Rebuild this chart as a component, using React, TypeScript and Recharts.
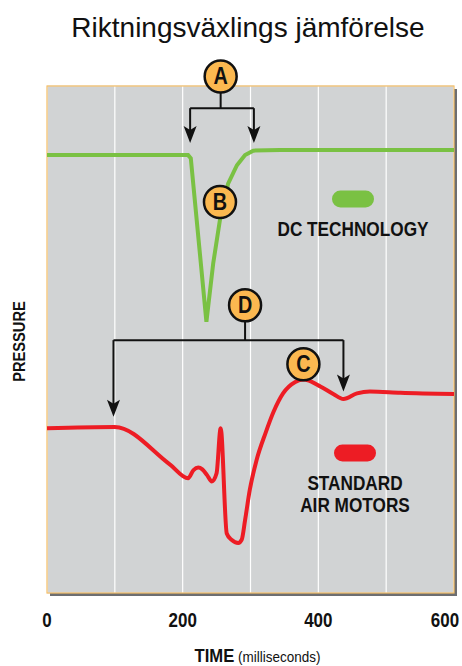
import {
  LineChart,
  Line,
  XAxis,
  YAxis,
  CartesianGrid,
  ReferenceLine,
  ReferenceDot,
  ReferenceArea,
  Legend,
  Label,
} from "recharts";

const timeTicks = [0, 100, 200, 300, 400, 500, 600];
const pressureTicks = [0, 1, 2, 3, 4, 5, 6, 7, 8];

const dcTime = [0, 100, 208, 212, 235, 245, 255, 267, 280, 292, 304, 344, 450, 600];
const dcPressure = [6.91, 6.91, 6.91, 6.86, 4.28, 5.2, 5.89, 6.46, 6.75, 6.91, 6.98, 6.99, 6.99, 6.99];

const airTime = [0, 100, 181, 208, 216, 223, 229, 236, 243, 250, 256, 265, 272, 282, 287, 292, 299, 309, 322, 334, 348, 366, 378, 383, 403, 422, 437, 457, 476, 521, 600];
const airPressure = [2.6, 2.62, 2.03, 1.81, 1.94, 1.98, 1.95, 1.86, 1.76, 1.89, 2.6, 0.94, 0.84, 0.79, 0.84, 1.15, 1.63, 2.1, 2.52, 2.86, 3.15, 3.33, 3.37, 3.36, 3.26, 3.14, 3.06, 3.15, 3.18, 3.16, 3.14];

const markerLetters = ["A", "B", "C", "D"];
const markerTime = [256, 255, 378, 292];
const markerPressure = [8.15, 6.17, 3.61, 4.54];

// brackets: [left, right] times, level and arrow tips
const aBracketTimes = [211, 305];
const aBracketLevel = 7.65;
const aArrowTips = [7.1, 7.1];
const dBracketTimes = [98, 437];
const dBracketLevel = 3.99;
const dArrowTips = [2.78, 3.18];

const dcData = dcTime.map((t, i) => ({ t, p: dcPressure[i] }));
const airData = airTime.map((t, i) => ({ t, p: airPressure[i] }));

const FONT = "'Liberation Sans', Arial, sans-serif";
const GREEN = "#7AC143";
const RED = "#ED1C24";
const BADGE = "#FBB850";

// narrow text: Liberation Sans squeezed horizontally
const NText = ({ x, y, sx, rotate, children, ...rest }: any) => (
  <text
    transform={`translate(${x},${y})${rotate ? ` rotate(${rotate})` : ""} scale(${sx},1)`}
    fontFamily={FONT}
    fill="#111"
    {...rest}
  >
    {children}
  </text>
);

const Badge = (letter: string) => (props: any) => (
  <g>
    <circle cx={props.cx} cy={props.cy} r={16} fill={BADGE} stroke="#111" strokeWidth={2.5} />
    <NText x={props.cx} y={props.cy + 8} sx={0.86} textAnchor="middle" fontWeight="bold" fontSize={23}>
      {letter}
    </NText>
  </g>
);

const ArrowHead = (props: any) => (
  <path
    d={`M${props.cx},${props.cy} L${props.cx - 6.5},${props.cy - 17} L${props.cx},${props.cy - 13} L${props.cx + 6.5},${props.cy - 17} Z`}
    fill="#111"
  />
);

const TimeTick = (props: any) => {
  const v = props.payload.value;
  if (v % 200 !== 0) return null;
  const last = v === 600;
  return (
    <NText x={props.x - (last ? 9 : 0)} y={props.y + 34} sx={0.87} textAnchor="middle" fontWeight="bold" fontSize={19.5}>
      {v}
    </NText>
  );
};

const TimeLabel = (props: any) => {
  const vb = props.viewBox;
  return (
    <NText x={vb.x + vb.width / 2 + 7} y={vb.y + 69} sx={0.9} textAnchor="middle">
      <tspan fontWeight="bold" fontSize={18.5}>TIME</tspan>
      <tspan fontSize={15}> (milliseconds)</tspan>
    </NText>
  );
};

const PressureLabel = (props: any) => {
  const vb = props.viewBox;
  return (
    <NText x={vb.x + 25} y={vb.y + vb.height / 2 + 2} rotate={-90} sx={0.86} textAnchor="middle" fontWeight="bold" fontSize={17}>
      PRESSURE
    </NText>
  );
};

const legendPos = [
  { cx: 353, cy: 199, lines: ["DC TECHNOLOGY"], ty: 236 },
  { cx: 355, cy: 453, lines: ["STANDARD", "AIR MOTORS"], ty: 490 },
];

const LegendContent = (props: any) => (
  <svg width={462} height={666} style={{ display: "block" }}>
    {(props.payload || []).map((entry: any, i: number) => {
      const pos = legendPos[i];
      return (
        <g key={entry.value}>
          <rect x={pos.cx - 21} y={pos.cy - 8.5} width={42} height={17} rx={8.5} fill={entry.color} />
          {pos.lines.map((ln, j) => (
            <NText key={ln} x={pos.cx} y={pos.ty + j * 22} sx={0.82} textAnchor="middle" fontWeight="bold" fontSize={21}>
              {ln}
            </NText>
          ))}
        </g>
      );
    })}
  </svg>
);

const Frame = (props: any) => {
  const { x, y, width, height } = props;
  return (
    <g>
      <rect x={x + width} y={y + 3} width={3} height={height} fill="#6D6E71" />
      <rect x={x + 3} y={y + height} width={width} height={3} fill="#6D6E71" />
      <rect x={x} y={y} width={width} height={height} fill="none" stroke="#F5BE66" strokeWidth={1.2} />
    </g>
  );
};

export default function App() {
  return (
    <div style={{ position: "relative", width: 462, height: 666, background: "#fff" }}>
      <style>{"body{margin:0}"}</style>
      <div
        style={{
          position: "absolute",
          left: 48,
          width: 400,
          top: 14,
          textAlign: "center",
          fontFamily: FONT,
          fontSize: 28,
          lineHeight: "28px",
          color: "#111",
        }}
      >
        Riktningsväxlings jämförelse
      </div>
      <LineChart width={462} height={666} margin={{ top: 86, right: 8, left: 0, bottom: 0 }}>
        <CartesianGrid vertical={false} fill="#D1D3D4" stroke="#DFE0E1" strokeWidth={1.2} />
        <CartesianGrid horizontal={false} stroke="#FFFFFF" strokeWidth={1.2} />
        <XAxis
          type="number"
          dataKey="t"
          domain={[0, 600]}
          ticks={timeTicks}
          height={73}
          axisLine={false}
          tickLine={false}
          tickSize={0}
          tickMargin={0}
          tick={TimeTick}
          interval={0}
        >
          <Label content={TimeLabel} />
        </XAxis>
        <YAxis
          type="number"
          domain={[0, 8]}
          ticks={pressureTicks}
          width={47}
          axisLine={false}
          tickLine={false}
          tick={false}
        >
          <Label content={PressureLabel} />
        </YAxis>
        <ReferenceArea x1={0} x2={600} y1={0} y2={8} shape={Frame} ifOverflow="visible" />
        <Line
          data={dcData}
          dataKey="p"
          name="DC TECHNOLOGY"
          type="linear"
          stroke={GREEN}
          strokeWidth={4}
          dot={false}
          isAnimationActive={false}
        />
        <Line
          data={airData}
          dataKey="p"
          name="STANDARD AIR MOTORS"
          type="monotone"
          stroke={RED}
          strokeWidth={4}
          dot={false}
          isAnimationActive={false}
        />
        {/* bracket A */}
        <ReferenceLine
          segment={[{ x: markerTime[0], y: aBracketLevel }, { x: markerTime[0], y: markerPressure[0] }]}
          stroke="#111"
          strokeWidth={2}
          ifOverflow="visible"
        />
        <ReferenceLine
          segment={[{ x: aBracketTimes[0], y: aBracketLevel }, { x: aBracketTimes[1], y: aBracketLevel }]}
          stroke="#111"
          strokeWidth={2}
        />
        {aBracketTimes.map((t, i) => (
          <ReferenceLine
            key={"a" + i}
            segment={[{ x: t, y: aBracketLevel }, { x: t, y: aArrowTips[i] + 0.15 }]}
            stroke="#111"
            strokeWidth={2}
          />
        ))}
        {aBracketTimes.map((t, i) => (
          <ReferenceDot key={"ah" + i} x={t} y={aArrowTips[i]} shape={ArrowHead} />
        ))}
        {/* bracket D */}
        <ReferenceLine
          segment={[{ x: markerTime[3], y: dBracketLevel }, { x: markerTime[3], y: markerPressure[3] }]}
          stroke="#111"
          strokeWidth={2}
        />
        <ReferenceLine
          segment={[{ x: dBracketTimes[0], y: dBracketLevel }, { x: dBracketTimes[1], y: dBracketLevel }]}
          stroke="#111"
          strokeWidth={2}
        />
        {dBracketTimes.map((t, i) => (
          <ReferenceLine
            key={"d" + i}
            segment={[{ x: t, y: dBracketLevel }, { x: t, y: dArrowTips[i] + 0.15 }]}
            stroke="#111"
            strokeWidth={2}
          />
        ))}
        {dBracketTimes.map((t, i) => (
          <ReferenceDot key={"dh" + i} x={t} y={dArrowTips[i]} shape={ArrowHead} />
        ))}
        {markerLetters.map((m, i) => (
          <ReferenceDot
            key={m}
            x={markerTime[i]}
            y={markerPressure[i]}
            shape={Badge(m)}
            ifOverflow="visible"
          />
        ))}
        <Legend
          layout="horizontal"
          verticalAlign="middle"
          align="center"
          content={LegendContent}
          wrapperStyle={{ left: 0, top: 0, width: 462, height: 666, pointerEvents: "none" }}
        />
      </LineChart>
    </div>
  );
}
